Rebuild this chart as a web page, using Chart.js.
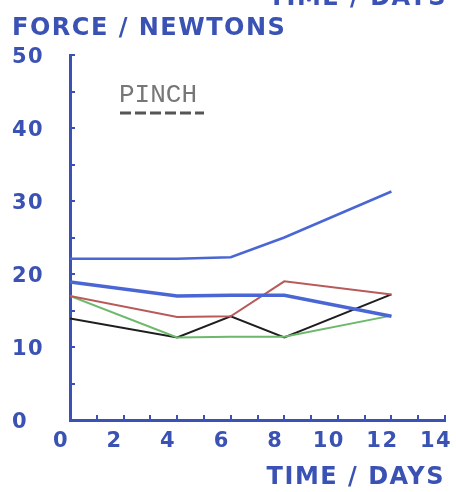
<!DOCTYPE html>
<html>
<head>
<meta charset="UTF-8">
<title>Force / Newtons</title>
<style>
html, body { margin: 0; padding: 0; background: #fff; }
#wrap { width: 456px; height: 492px; }
</style>
</head>
<body>
<div id="wrap"><canvas id="myChart"></canvas></div>

<script src="https://cdn.jsdelivr.net/npm/chart.js"></script>
<script>
// readings
const days = [0, 4, 6, 8, 12];
const blueTop = [22.1, 22.1, 22.3, 25.0, 31.3];
const blueLow = [18.9, 17.0, 17.1, 17.1, 14.2];
const redLine = [17.0, 14.1, 14.2, 19.0, 17.2];
const greenLine = [17.0, 11.3, 11.4, 11.4, 14.3];
const blackLine = [13.9, 11.3, 14.2, 11.3, 17.2];

const xTickLabels = [0, 2, 4, 6, 8, 10, 12, 14];
const yTickLabels = [0, 10, 20, 30, 40, 50];

const yTitle = 'FORCE / NEWTONS';
const xTitle = 'TIME / DAYS';
const legendText = 'PINCH';

const axisBlue = '#3a52b4';
const plotFont = '"DejaVu Sans", sans-serif';

function pts(vals) {
  return days.map((d, i) => ({ x: d, y: vals[i] }));
}

// extra text: y title, the clipped caption at the top, the PINCH key
const decor = {
  id: 'decor',
  beforeDraw(chart) {
    chart.ctx.letterSpacing = '1.5px';
  },
  afterDraw(chart) {
    const c = chart.ctx;
    c.save();
    c.letterSpacing = '1.5px';
    c.fillStyle = axisBlue;
    c.font = 'bold 24px ' + plotFont;
    c.textBaseline = 'middle';
    c.textAlign = 'left';
    c.fillText(yTitle, 12, 29);
    c.textAlign = 'right';
    c.fillText(xTitle, 447, -1);

    c.letterSpacing = '0px';
    c.fillStyle = '#777';
    c.font = '26px "Liberation Mono", monospace';
    c.textAlign = 'left';
    c.fillText(legendText, 119, 95);
    c.strokeStyle = '#555';
    c.lineWidth = 3;
    c.setLineDash([11, 4]);
    c.beginPath();
    c.moveTo(120, 113);
    c.lineTo(204, 113);
    c.stroke();
    c.restore();
  }
};

new Chart(document.getElementById('myChart'), {
  type: 'line',
  data: {
    datasets: [
      { data: pts(blueTop), borderColor: '#4a66d4', borderWidth: 2.5 },
      { data: pts(blueLow), borderColor: '#4a66d4', borderWidth: 3.5 },
      { data: pts(redLine), borderColor: '#b85a5a', borderWidth: 2 },
      { data: pts(greenLine), borderColor: '#6cb86c', borderWidth: 2 },
      { data: pts(blackLine), borderColor: '#1e1e1e', borderWidth: 2 }
    ]
  },
  options: {
    responsive: true,
    maintainAspectRatio: false,
    animation: false,
    layout: { padding: { top: 55, right: 11, left: 12, bottom: 0 } },
    elements: { point: { radius: 0 }, line: { tension: 0 } },
    plugins: { legend: { display: false }, tooltip: { enabled: false } },
    scales: {
      x: {
        type: 'linear',
        min: 0,
        max: 14,
        afterFit: s => { s.height = 72; s.paddingLeft = 0; s.paddingRight = 0; },
        border: { color: axisBlue, width: 3 },
        grid: { drawOnChartArea: false, color: axisBlue, lineWidth: 2, tickLength: -5 },
        ticks: {
          stepSize: 1,
          autoSkip: false,
          maxRotation: 0,
          padding: 14,
          labelOffset: -9,
          color: axisBlue,
          font: { family: plotFont, size: 21, weight: 'bold' },
          callback: v => xTickLabels.includes(v) ? String(v) : ''
        },
        title: {
          display: true,
          text: xTitle,
          align: 'end',
          color: axisBlue,
          padding: { top: 0, bottom: 0 },
          font: { family: plotFont, size: 24, weight: 'bold' }
        }
      },
      y: {
        min: 0,
        max: 50,
        afterFit: s => { s.width = 58; s.paddingTop = 0; s.paddingBottom = 0; },
        border: { color: axisBlue, width: 3 },
        grid: { drawOnChartArea: false, color: axisBlue, lineWidth: 2, tickLength: -5 },
        ticks: {
          stepSize: 5,
          autoSkip: false,
          crossAlign: 'far',
          labelOffset: 3,
          color: axisBlue,
          font: { family: plotFont, size: 21, weight: 'bold' },
          callback: v => yTickLabels.includes(v) ? String(v) : ''
        }
      }
    }
  },
  plugins: [decor]
});
</script>
</body>
</html>
